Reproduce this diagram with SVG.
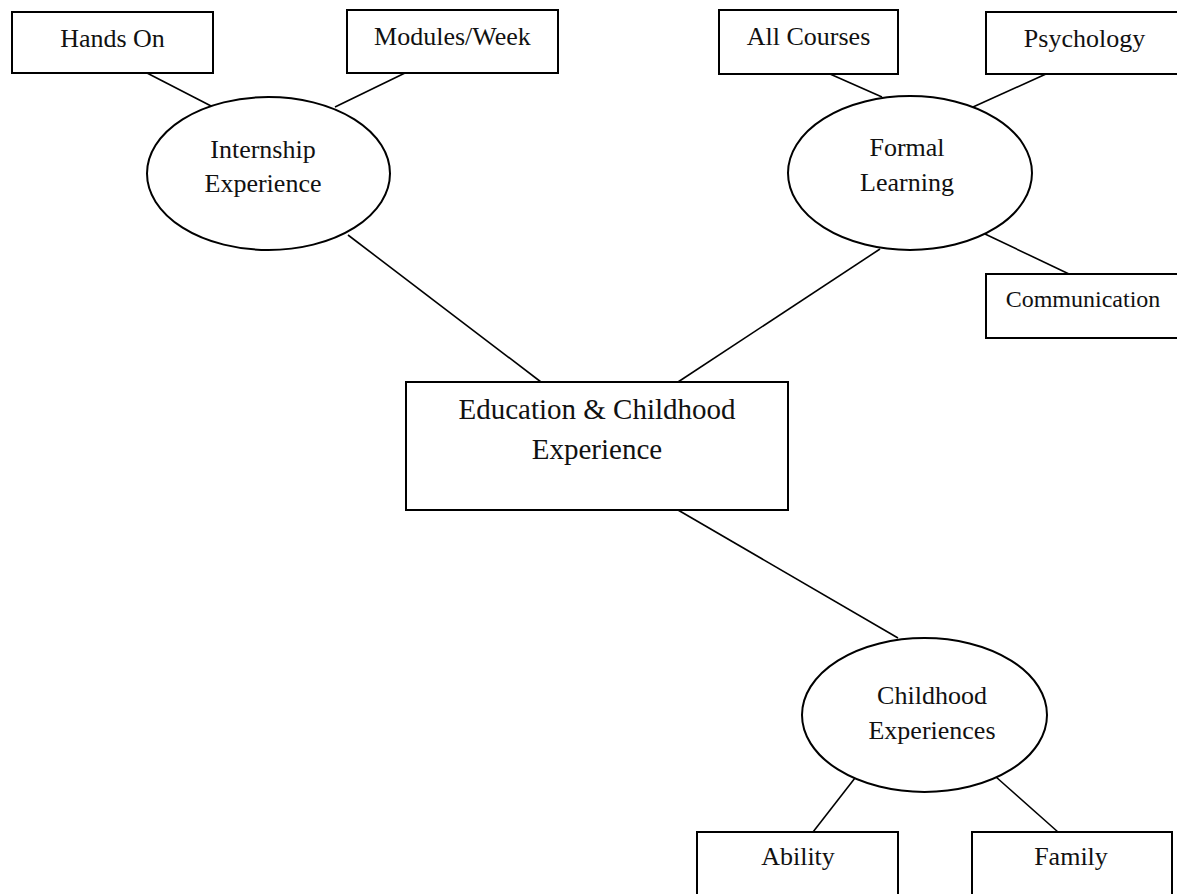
<svg xmlns="http://www.w3.org/2000/svg" width="1177" height="894" viewBox="0 0 1177 894">
<style>
.box{fill:#fff;stroke:#000;stroke-width:2}
.ell{fill:#fff;stroke:#000;stroke-width:2}
.t{font-family:"Liberation Serif","Times New Roman",serif;font-size:26px;fill:#111;text-anchor:middle}
.big{font-size:29px}
.sm{font-size:24px}
#connectors line{stroke:#000;stroke-width:1.6}
</style>
<rect width="1177" height="894" fill="#fff"/>
<g id="connectors">
<line x1="147" y1="73" x2="213" y2="107"/>
<line x1="405" y1="73" x2="335" y2="107"/>
<line x1="348" y1="235" x2="541" y2="382"/>
<line x1="830" y1="74" x2="882" y2="97"/>
<line x1="1046" y1="74" x2="973" y2="107"/>
<line x1="985" y1="234" x2="1069" y2="274"/>
<line x1="880" y1="249" x2="678" y2="382"/>
<line x1="678" y1="510" x2="898" y2="638"/>
<line x1="855" y1="778" x2="813" y2="832"/>
<line x1="996" y1="777" x2="1058" y2="832"/>
</g>
<g id="hands-on">
<rect class="box" x="12" y="12" width="201" height="61"/>
<text class="t" x="112.5" y="47">Hands On</text>
</g>
<g id="modules-week">
<rect class="box" x="347" y="10" width="211" height="63"/>
<text class="t" x="452.5" y="45">Modules/Week</text>
</g>
<g id="all-courses">
<rect class="box" x="719" y="10" width="179" height="64"/>
<text class="t" x="808.5" y="45">All Courses</text>
</g>
<g id="psychology">
<rect class="box" x="986" y="12" width="196" height="62"/>
<text class="t" x="1084.5" y="47">Psychology</text>
</g>
<g id="internship">
<ellipse class="ell" cx="268.5" cy="173.5" rx="121.5" ry="76.5"/>
<text class="t" x="263" y="158">Internship</text>
<text class="t" x="263" y="192">Experience</text>
</g>
<g id="formal-learning">
<ellipse class="ell" cx="910" cy="173" rx="122" ry="77"/>
<text class="t" x="907" y="156">Formal</text>
<text class="t" x="907" y="191">Learning</text>
</g>
<g id="communication">
<rect class="box" x="986" y="274" width="196" height="64"/>
<text class="t sm" x="1083" y="307">Communication</text>
</g>
<g id="central">
<rect class="box" x="406" y="382" width="382" height="128"/>
<text class="t big" x="597" y="419">Education &amp; Childhood</text>
<text class="t big" x="597" y="459">Experience</text>
</g>
<g id="childhood">
<ellipse class="ell" cx="924.5" cy="715" rx="122.5" ry="77"/>
<text class="t" x="932" y="704">Childhood</text>
<text class="t" x="932" y="739">Experiences</text>
</g>
<g id="ability">
<rect class="box" x="697" y="832" width="201" height="70"/>
<text class="t" x="798" y="865">Ability</text>
</g>
<g id="family">
<rect class="box" x="972" y="832" width="200" height="70"/>
<text class="t" x="1071" y="865">Family</text>
</g>
</svg>
